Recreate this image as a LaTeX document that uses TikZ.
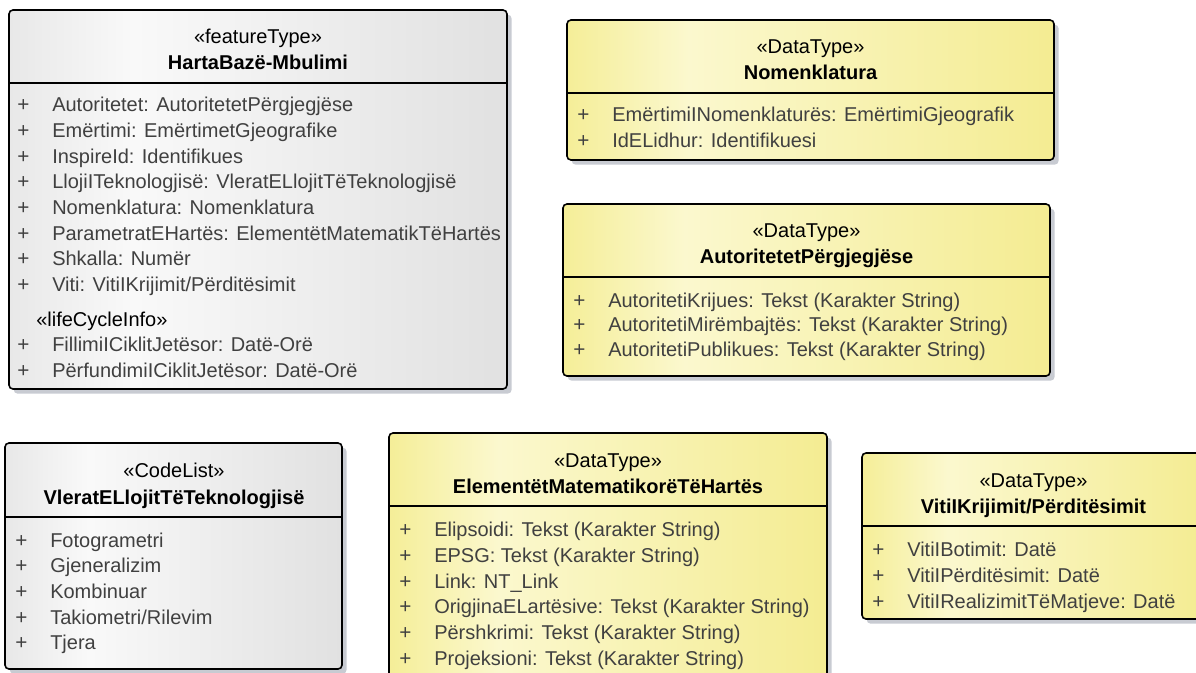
\documentclass[tikz,border=0pt]{standalone}
\usepackage{fontspec}
\setmainfont{Liberation Sans}
\usetikzlibrary{fit,shadows}

\definecolor{yL}{RGB}{245,238,152}
\definecolor{yM}{RGB}{251,248,206}
\definecolor{yR}{RGB}{244,236,146}
\definecolor{gL}{RGB}{232,232,232}
\definecolor{gM}{RGB}{249,249,249}
\definecolor{gR}{RGB}{225,225,225}
\definecolor{shadowc}{RGB}{200,203,210}
\definecolor{attrc}{RGB}{64,64,64}

% class fills: darker at both sides, lightest about a quarter of the way in
\pgfdeclarehorizontalshading{yellowfill}{100bp}{color(0bp)=(yL); color(25bp)=(yL); color(37.5bp)=(yM); color(75bp)=(yR); color(100bp)=(yR)}
\pgfdeclarehorizontalshading{grayfill}{100bp}{color(0bp)=(gL); color(25bp)=(gL); color(37.5bp)=(gM); color(75bp)=(gR); color(100bp)=(gR)}

\tikzset{
  classbox/.style={draw=black, line width=1.2pt, rounded corners=3pt, inner sep=0pt,
    drop shadow={shadow xshift=3.5pt, shadow yshift=-3.5pt, fill=shadowc, opacity=1}},
  datatype/.style={classbox, shading=yellowfill},
  greytype/.style={classbox, shading=grayfill},
  divline/.style={draw=black, line width=1.2pt},
  stereo/.style={inner sep=0pt, text=black, font=\fontsize{15}{18}\selectfont, text height=10.7pt, text depth=0pt},
  cname/.style={inner sep=0pt, text=black, font=\bfseries\fontsize{15}{18}\selectfont, text height=10.7pt, text depth=0pt},
  attr/.style={inner sep=0pt, anchor=west, text=attrc, font=\fontsize{15}{18}\selectfont, text height=10.7pt, text depth=0pt},
  plus/.style={inner sep=0pt, text=attrc, font=\fontsize{15.5}{18}\selectfont, text height=10.7pt, text depth=0pt},
}

% one attribute line: node name, box left edge, row centre, text
\newcommand\attrline[4]{%
  \node[plus] (#1p) at (#2+16.5,#3) {+};
  \node[attr] (#1) at (#2+45,#3) {#4};}

\begin{document}
\begin{tikzpicture}[x=0.75pt,y=-0.75pt]
\useasboundingbox (0,0) rectangle (1196,672);

% ---------- HartaBazë-Mbulimi ----------
\node[greytype, fit={(9,10)(507,389)}] (harta) {};
\draw[divline] (9,83) -- (507,83);
\node[stereo] (hartaS) at (258,36.5) {«featureType»};
\node[cname] (hartaN) at (258,62) {HartaBazë-Mbulimi};
\attrline{h1}{7}{104.5}{Autoritetet: AutoritetetPërgjegjëse}
\attrline{h2}{7}{130.2}{Emërtimi: EmërtimetGjeografike}
\attrline{h3}{7}{155.9}{InspireId: Identifikues}
\attrline{h4}{7}{181.6}{LlojiITeknologjisë: VleratELlojitTëTeknologjisë}
\attrline{h5}{7}{207.3}{Nomenklatura: Nomenklatura}
\attrline{h6}{7}{233.0}{ParametratEHartës: ElementëtMatematikTëHartës}
\attrline{h7}{7}{258.7}{Shkalla: Numër}
\attrline{h8}{7}{284.4}{Viti: VitiIKrijimit/Përditësimit}
\node[attr, text=black] (hartaLC) at (36,319) {«lifeCycleInfo»};
\attrline{h9}{7}{344.5}{FillimiICiklitJetësor: Datë-Orë}
\attrline{h10}{7}{370}{PërfundimiICiklitJetësor: Datë-Orë}

% ---------- Nomenklatura ----------
\node[datatype, fit={(567,20)(1054,160)}] (nomen) {};
\draw[divline] (567,93) -- (1054,93);
\node[stereo] (nomenS) at (810.5,46.5) {«DataType»};
\node[cname] (nomenN) at (810.5,72) {Nomenklatura};
\attrline{n1}{567}{114.5}{EmërtimiINomenklaturës: EmërtimiGjeografik}
\attrline{n2}{567}{140.2}{IdELidhur: Identifikuesi}

% ---------- AutoritetetPërgjegjëse ----------
\node[datatype, fit={(563,204)(1050,376)}] (autor) {};
\draw[divline] (563,277) -- (1050,277);
\node[stereo] (autorS) at (806.5,230.5) {«DataType»};
\node[cname] (autorN) at (806.5,256) {AutoritetetPërgjegjëse};
\attrline{a1}{563}{300}{AutoritetiKrijues: Tekst (Karakter String)}
\attrline{a2}{563}{324.5}{AutoritetiMirëmbajtës: Tekst (Karakter String)}
\attrline{a3}{563}{349}{AutoritetiPublikues: Tekst (Karakter String)}

% ---------- VleratELlojitTëTeknologjisë ----------
\node[greytype, fit={(5,443)(342,669)}] (vlerat) {};
\draw[divline] (5,517) -- (342,517);
\node[stereo] (vleratS) at (174,470.5) {«CodeList»};
\node[cname] (vleratN) at (174,497) {VleratELlojitTëTeknologjisë};
\attrline{v1}{5}{540}{Fotogrametri}
\attrline{v2}{5}{565.7}{Gjeneralizim}
\attrline{v3}{5}{591.4}{Kombinuar}
\attrline{v4}{5}{617.1}{Takiometri/Rilevim}
\attrline{v5}{5}{642.8}{Tjera}

% ---------- ElementëtMatematikorëTëHartës ----------
\node[datatype, fit={(389,433)(827,700)}] (elem) {};
\draw[divline] (389,506) -- (827,506);
\node[stereo] (elemS) at (608,460.5) {«DataType»};
\node[cname] (elemN) at (608,486) {ElementëtMatematikorëTëHartës};
\attrline{e1}{389}{529.5}{Elipsoidi: Tekst (Karakter String)}
\attrline{e2}{389}{555.2}{EPSG: Tekst (Karakter String)}
\attrline{e3}{389}{580.9}{Link: NT\_Link}
\attrline{e4}{389}{606.6}{OrigjinaELartësive: Tekst (Karakter String)}
\attrline{e5}{389}{632.3}{Përshkrimi: Tekst (Karakter String)}
\attrline{e6}{389}{658}{Projeksioni: Tekst (Karakter String)}

% ---------- VitiIKrijimit/Përditësimit ----------
\node[datatype, fit={(862,453)(1205,619)}] (viti) {};
\draw[divline] (862,526) -- (1205,526);
\node[stereo] (vitiS) at (1033.5,480.5) {«DataType»};
\node[cname] (vitiN) at (1033.5,506) {VitiIKrijimit/Përditësimit};
\attrline{t1}{862}{549.5}{VitiIBotimit: Datë}
\attrline{t2}{862}{575.2}{VitiIPërditësimit: Datë}
\attrline{t3}{862}{600.9}{VitiIRealizimitTëMatjeve: Datë}

\end{tikzpicture}
\end{document}
